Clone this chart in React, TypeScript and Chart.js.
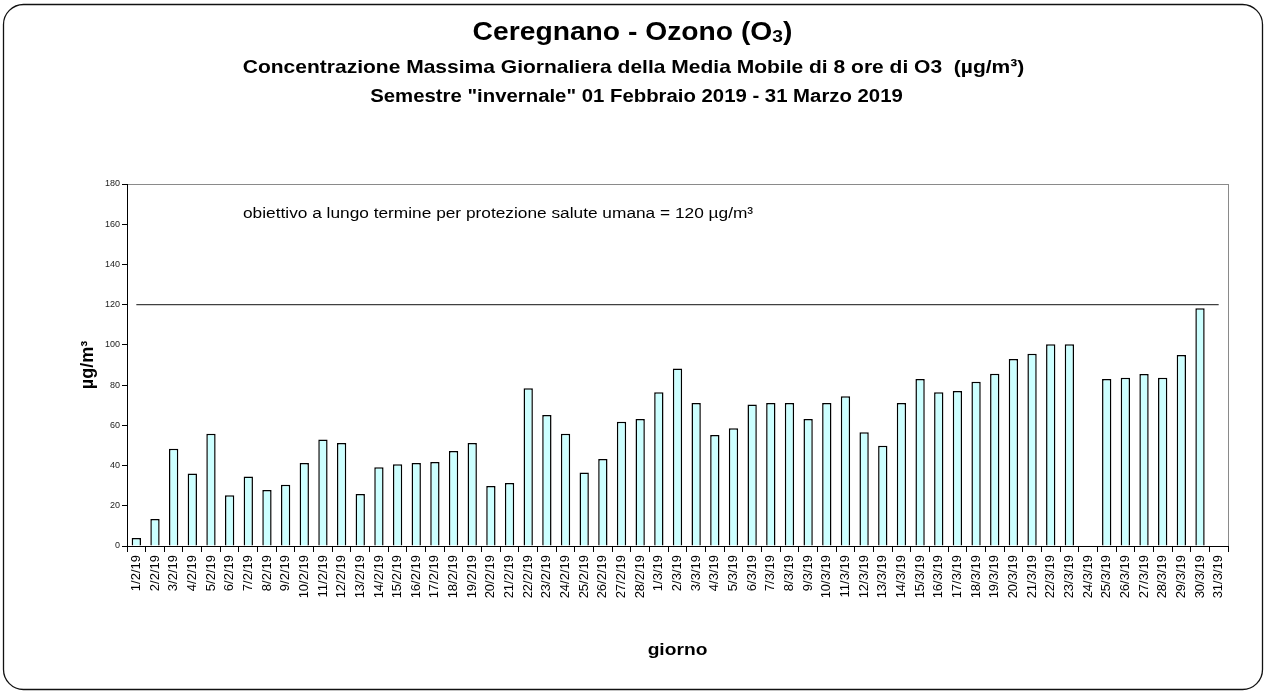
import React, { useEffect, useRef } from "react";
import { Chart, registerables } from "chart.js";

Chart.register(...registerables);

const categories = [
  "1/2/19", "2/2/19", "3/2/19", "4/2/19", "5/2/19", "6/2/19", "7/2/19", "8/2/19", "9/2/19", "10/2/19",
  "11/2/19", "12/2/19", "13/2/19", "14/2/19", "15/2/19", "16/2/19", "17/2/19", "18/2/19", "19/2/19", "20/2/19",
  "21/2/19", "22/2/19", "23/2/19", "24/2/19", "25/2/19", "26/2/19", "27/2/19", "28/2/19",
  "1/3/19", "2/3/19", "3/3/19", "4/3/19", "5/3/19", "6/3/19", "7/3/19", "8/3/19", "9/3/19", "10/3/19",
  "11/3/19", "12/3/19", "13/3/19", "14/3/19", "15/3/19", "16/3/19", "17/3/19", "18/3/19", "19/3/19", "20/3/19",
  "21/3/19", "22/3/19", "23/3/19", "24/3/19", "25/3/19", "26/3/19", "27/3/19", "28/3/19", "29/3/19", "30/3/19",
  "31/3/19",
];

const o3Values: (number | null)[] = [
  4.0, 13.4, 48.4, 36.0, 55.8, 25.2, 34.5, 27.8, 30.5, 41.3,
  53.0, 51.2, 25.8, 39.1, 40.6, 41.3, 41.8, 47.2, 51.2, 29.8,
  31.3, 78.4, 65.1, 55.8, 36.6, 43.3, 61.8, 63.1,
  76.4, 88.3, 71.1, 55.2, 58.5, 70.4, 71.1, 71.1, 63.1, 71.1,
  74.4, 56.5, 49.9, 71.1, 83.0, 76.4, 77.1, 81.7, 85.7, 93.0,
  95.6, 100.3, 100.3, null, 83.0, 83.7, 85.5, 83.7, 95.0, 118.2,
  null,
];

const targetValue = 120;
const yMin = 0;
const yMax = 180;
const yStep = 20;

const titleText = "Ceregnano - Ozono (O";
const subtitle1 = "Concentrazione Massima Giornaliera della Media Mobile di 8 ore di O3  (µg/m³)";
const subtitle2 = 'Semestre "invernale" 01 Febbraio 2019 - 31 Marzo 2019';
const annotationText = "obiettivo a lungo termine per protezione salute umana = 120 µg/m³";
const yTitle = "µg/m³";
const xTitle = "giorno";

const FONT = '"Liberation Sans", Arial, Helvetica, sans-serif';
const SX = 1.13;

function drawText(
  ctx: CanvasRenderingContext2D,
  text: string,
  x: number,
  y: number,
  font: string,
  align: "left" | "center",
  sx: number = SX
) {
  ctx.save();
  ctx.font = font;
  ctx.textBaseline = "middle";
  ctx.textAlign = "left";
  ctx.fillStyle = "#000";
  const w = ctx.measureText(text).width * sx;
  const left = align === "center" ? x - w / 2 : x;
  ctx.translate(left, y);
  ctx.scale(sx, 1);
  ctx.fillText(text, 0, 0);
  ctx.restore();
}

const decorPlugin = {
  id: "decor",
  beforeDraw(chart: any) {
    const ctx: CanvasRenderingContext2D = chart.ctx;
    const { left, top, right, bottom } = chart.chartArea;
    ctx.save();
    ctx.fillStyle = "#fff";
    ctx.fillRect(0, 0, chart.width, chart.height);
    // outer rounded frame
    ctx.strokeStyle = "#111";
    ctx.lineWidth = 1.3;
    ctx.beginPath();
    (ctx as any).roundRect(3.5, 4.5, 1259, 685, 20);
    ctx.stroke();
    // plot area frame (grey)
    ctx.strokeStyle = "#8a8a8a";
    ctx.lineWidth = 1;
    ctx.strokeRect(left + 0.5, top + 0.5, right - left, bottom - top);
    ctx.restore();
  },
  afterDraw(chart: any) {
    const ctx: CanvasRenderingContext2D = chart.ctx;
    const { left, right, top, bottom } = chart.chartArea;
    const cx = chart.width / 2;

    // Title with subscript 3
    ctx.save();
    const tFont = `bold 25px ${FONT}`;
    const sFont = `bold 17px ${FONT}`;
    ctx.font = tFont;
    const w1 = ctx.measureText(titleText).width * SX;
    const w3 = ctx.measureText(")").width * SX;
    ctx.font = sFont;
    const w2 = ctx.measureText("3").width * SX;
    const total = w1 + w2 + w3;
    const x0 = cx - total / 2;
    ctx.restore();
    drawText(ctx, titleText, x0, 33, tFont, "left");
    drawText(ctx, "3", x0 + w1, 37, sFont, "left");
    drawText(ctx, ")", x0 + w1 + w2, 33, tFont, "left");

    drawText(ctx, subtitle1, cx + 1, 68, `bold 18.6px ${FONT}`, "center");
    drawText(ctx, subtitle2, cx + 4, 97, `bold 18px ${FONT}`, "center");

    // annotation
    drawText(ctx, annotationText, left + 116, 214, `15.3px ${FONT}`, "left");

    // x title
    drawText(ctx, xTitle, (left + right) / 2, 650, `bold 17px ${FONT}`, "center");

    // y title rotated
    ctx.save();
    ctx.translate(88, (top + bottom) / 2);
    ctx.rotate(-Math.PI / 2);
    ctx.font = `bold 18px ${FONT}`;
    ctx.textAlign = "center";
    ctx.textBaseline = "middle";
    ctx.fillStyle = "#000";
    ctx.fillText(yTitle, 0, 0);
    ctx.restore();
  },
};

export default function App() {
  const canvasRef = useRef<HTMLCanvasElement | null>(null);

  useEffect(() => {
    if (!canvasRef.current) return;
    const chart = new Chart(canvasRef.current, {
      type: "bar",
      data: {
        labels: categories,
        datasets: [
          {
            type: "line" as const,
            label: "obiettivo",
            data: categories.map(() => targetValue),
            borderColor: "#404040",
            borderWidth: 1.3,
            pointRadius: 0,
            fill: false,
            order: 0,
          },
          {
            type: "bar" as const,
            label: "O3",
            data: o3Values,
            backgroundColor: "#CCFFFF",
            borderColor: "#000000",
            borderWidth: 1.5,
            barPercentage: 0.5,
            categoryPercentage: 1.0,
            order: 1,
          },
        ],
      } as any,
      options: {
        responsive: false,
        animation: false,
        events: [],
        layout: { padding: { left: 0, top: 184, right: 37, bottom: 0 } },
        plugins: {
          legend: { display: false },
          tooltip: { enabled: false },
          title: { display: false },
        },
        scales: {
          x: {
            offset: true,
            grid: {
              offset: true,
              drawOnChartArea: false,
              drawTicks: true,
              tickLength: 6,
              color: "#000",
            },
            border: { color: "#000", width: 1 },
            ticks: {
              autoSkip: false,
              maxRotation: 90,
              minRotation: 90,
              padding: 3,
              color: "#000",
              font: { family: FONT, size: 13 },
            },
            afterFit(scale: any) {
              scale.height = 145;
            },
          },
          y: {
            min: yMin,
            max: yMax,
            grid: {
              drawOnChartArea: false,
              drawTicks: true,
              tickLength: 5,
              color: "#000",
            },
            border: { color: "#000", width: 1 },
            ticks: {
              stepSize: yStep,
              padding: 2,
              color: "#222",
              font: { family: FONT, size: 9 },
            },
            afterFit(scale: any) {
              scale.width = 127;
            },
          },
        },
      },
      plugins: [decorPlugin],
    });
    return () => chart.destroy();
  }, []);

  return (
    <div style={{ position: "absolute", left: 0, top: 0, width: 1265, height: 691 }}>
      <canvas ref={canvasRef} width={1265} height={691} style={{ display: "block" }} />
    </div>
  );
}
